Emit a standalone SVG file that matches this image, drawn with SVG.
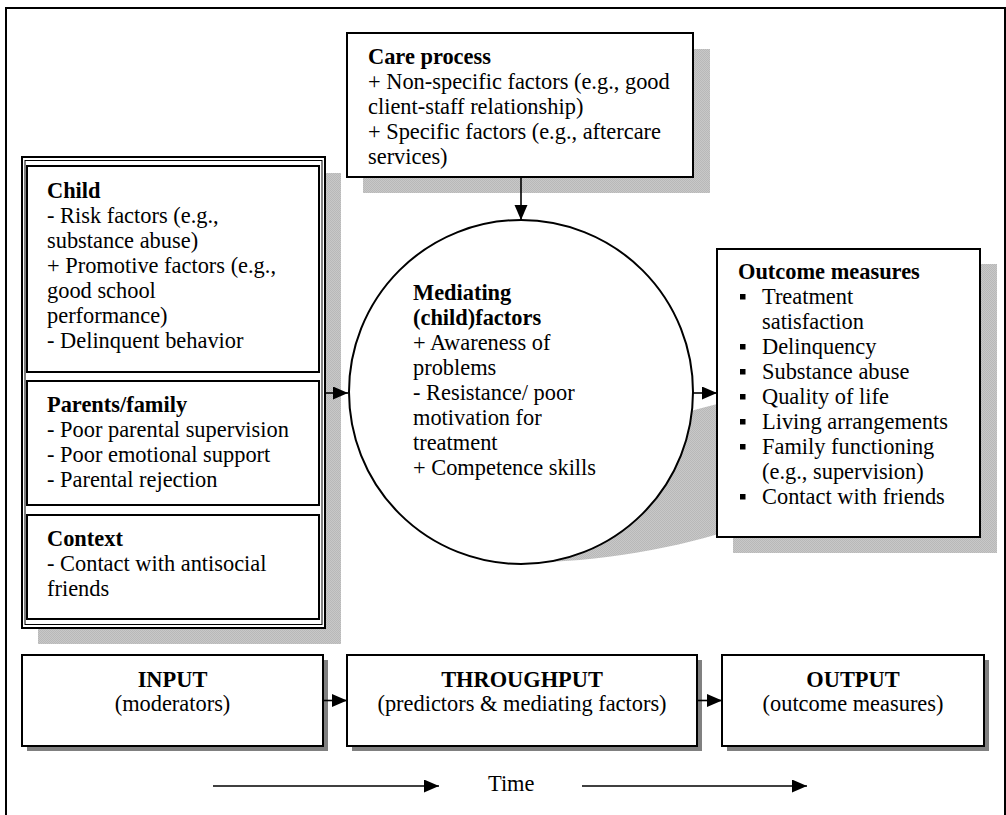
<svg xmlns="http://www.w3.org/2000/svg" width="1006" height="815" viewBox="0 0 1006 815">
<defs>
<pattern id="hatch" width="2" height="2" patternUnits="userSpaceOnUse">
<rect width="2" height="2" fill="#c8c8c8"/>
<rect width="1" height="1" fill="#b8b8b8"/>
<rect x="1" y="1" width="1" height="1" fill="#b8b8b8"/>
</pattern>
<marker id="ah" markerUnits="userSpaceOnUse" markerWidth="16" markerHeight="14" refX="15" refY="6.5" orient="auto">
<path d="M0,0 L15,6.5 L0,13 Z" fill="#000"/>
</marker>
<style>
text{font-family:"Liberation Serif","Times New Roman",serif;font-size:22.4px;fill:#000}
.b{font-weight:bold}
.box{fill:#fff;stroke:#000;stroke-width:2}
.sh{fill:url(#hatch)}
.dsh{fill:#808080}
.ln{stroke:#000;stroke-width:1.6;fill:none}
.bul{fill:#000}
.c{text-anchor:middle}
</style>
</defs>
<rect width="1006" height="815" fill="#fff"/>
<path d="M6,815 V8 H1005 V815" fill="none" stroke="#000" stroke-width="2"/>

<g id="shadows">
<rect class="sh" x="363" y="49" width="347" height="144"/>
<rect class="sh" x="733" y="264" width="264" height="289"/>
<rect class="sh" x="38" y="173" width="303" height="471"/>
<path class="sh" d="M560,470 L660,419 L740,398 L740,527 C680,548 600,562 520,563 Z"/>
<rect class="dsh" x="27" y="660" width="301" height="91"/>
<rect class="dsh" x="352" y="660" width="350" height="91"/>
<rect class="dsh" x="727" y="660" width="262" height="91"/>
</g>

<g id="care-process">
<rect class="box" x="347" y="33" width="346" height="144"/>
<text x="368" y="64" class="b">Care process</text>
<text x="368" y="89">+ Non-specific factors (e.g., good</text>
<text x="368" y="114">client-staff relationship)</text>
<text x="368" y="139">+ Specific factors (e.g., aftercare</text>
<text x="368" y="164">services)</text>
</g>

<g id="input-group">
<rect x="22" y="157" width="303" height="471" fill="#fff" stroke="#000" stroke-width="2"/>
<rect x="25" y="160.5" width="297" height="464" fill="none" stroke="#000" stroke-width="1"/>
</g>

<g id="child">
<rect class="box" x="27" y="166" width="292" height="206"/>
<text x="47" y="198" class="b">Child</text>
<text x="47" y="223">- Risk factors (e.g.,</text>
<text x="47" y="248">substance abuse)</text>
<text x="47" y="273">+ Promotive factors (e.g.,</text>
<text x="47" y="298">good school</text>
<text x="47" y="323">performance)</text>
<text x="47" y="348">- Delinquent behavior</text>
</g>

<g id="parents-family">
<rect class="box" x="27" y="381" width="292" height="124"/>
<text x="47" y="412" class="b">Parents/family</text>
<text x="47" y="437">- Poor parental supervision</text>
<text x="47" y="462">- Poor emotional support</text>
<text x="47" y="487">- Parental rejection</text>
</g>

<g id="context">
<rect class="box" x="27" y="515" width="292" height="104"/>
<text x="47" y="546" class="b">Context</text>
<text x="47" y="571">- Contact with antisocial</text>
<text x="47" y="596">friends</text>
</g>

<g id="mediating">
<circle cx="521" cy="392" r="172" fill="#fff" stroke="#000" stroke-width="2"/>
<text x="413" y="300" class="b">Mediating</text>
<text x="413" y="325" class="b">(child)factors</text>
<text x="413" y="350">+ Awareness of</text>
<text x="413" y="375">problems</text>
<text x="413" y="400">- Resistance/ poor</text>
<text x="413" y="425">motivation for</text>
<text x="413" y="450">treatment</text>
<text x="413" y="475">+ Competence skills</text>
</g>

<g id="outcome">
<rect class="box" x="717" y="249" width="263" height="288"/>
<text x="738" y="279" class="b">Outcome measures</text>
<rect class="bul" x="740" y="294" width="5.5" height="5.5"/>
<text x="762" y="304">Treatment</text>
<text x="762" y="329">satisfaction</text>
<rect class="bul" x="740" y="344" width="5.5" height="5.5"/>
<text x="762" y="354">Delinquency</text>
<rect class="bul" x="740" y="369" width="5.5" height="5.5"/>
<text x="762" y="379">Substance abuse</text>
<rect class="bul" x="740" y="394" width="5.5" height="5.5"/>
<text x="762" y="404">Quality of life</text>
<rect class="bul" x="740" y="419" width="5.5" height="5.5"/>
<text x="762" y="429">Living arrangements</text>
<rect class="bul" x="740" y="444" width="5.5" height="5.5"/>
<text x="762" y="454">Family functioning</text>
<text x="762" y="479">(e.g., supervision)</text>
<rect class="bul" x="740" y="494" width="5.5" height="5.5"/>
<text x="762" y="504">Contact with friends</text>
</g>

<g id="input">
<rect class="box" x="22" y="655" width="301" height="91"/>
<text x="172.5" y="687" class="b c">INPUT</text>
<text x="172.5" y="711" class="c">(moderators)</text>
</g>

<g id="throughput">
<rect class="box" x="347" y="655" width="350" height="91"/>
<text x="522" y="687" class="b c">THROUGHPUT</text>
<text x="522" y="711" class="c">(predictors &amp; mediating factors)</text>
</g>

<g id="output">
<rect class="box" x="722" y="655" width="262" height="91"/>
<text x="853" y="687" class="b c">OUTPUT</text>
<text x="853" y="711" class="c">(outcome measures)</text>
</g>

<g id="time">
<text x="488" y="791">Time</text>
</g>

<g id="connectors">
<line class="ln" x1="521" y1="177" x2="521" y2="220" marker-end="url(#ah)"/>
<line class="ln" x1="325" y1="393" x2="348" y2="393" marker-end="url(#ah)"/>
<line class="ln" x1="693" y1="393" x2="717" y2="393" marker-end="url(#ah)"/>
<line class="ln" x1="323" y1="700.5" x2="347" y2="700.5" marker-end="url(#ah)"/>
<line class="ln" x1="697" y1="700.5" x2="722" y2="700.5" marker-end="url(#ah)"/>
<line class="ln" x1="213" y1="786" x2="439" y2="786" marker-end="url(#ah)"/>
<line class="ln" x1="582" y1="786" x2="807" y2="786" marker-end="url(#ah)"/>
</g>
</svg>
